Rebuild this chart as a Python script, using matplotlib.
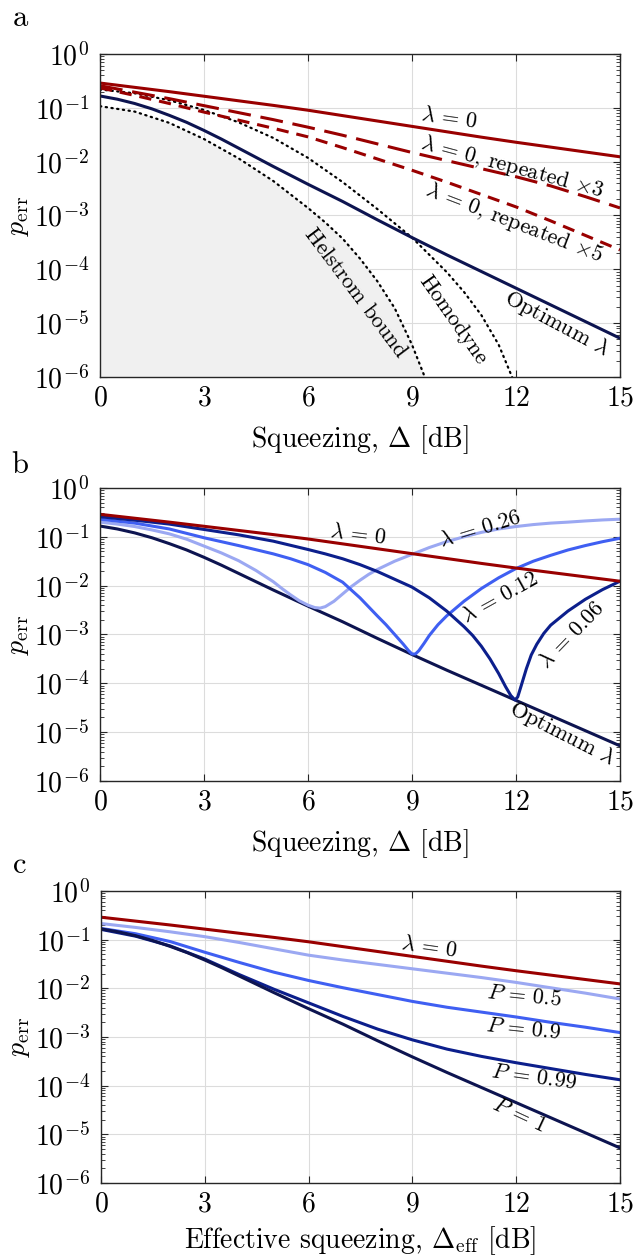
import numpy as np
import matplotlib
matplotlib.use("Agg")
import matplotlib.pyplot as plt
from matplotlib.ticker import LogLocator, NullFormatter

plt.rcParams['font.family'] = 'serif'
plt.rcParams['font.serif'] = ['cmr10']
plt.rcParams['mathtext.fontset'] = 'cm'
plt.rcParams['axes.formatter.use_mathtext'] = True

# ---- data (values are log10 of p_err) ----
x_db = [0, 1, 2, 3, 4, 5, 6, 7, 8, 9, 10, 11, 12, 13, 14, 15]

lam0 = [-0.54, -0.62, -0.70, -0.785, -0.87, -0.955, -1.045, -1.145, -1.245,
        -1.345, -1.445, -1.545, -1.64, -1.73, -1.82, -1.91]

opt_x = [0, 0.5, 1, 1.5, 2, 2.5, 3, 3.5, 4, 5, 6, 7, 8, 9, 10, 11, 12, 13, 14, 15]
optimum = [-0.78, -0.84, -0.92, -1.02, -1.14, -1.27, -1.42, -1.58, -1.75, -2.09,
           -2.42, -2.74, -3.08, -3.41, -3.73, -4.04, -4.35, -4.66, -4.97, -5.28]

rep3 = [-0.59, -0.71, -0.83, -0.96, -1.09, -1.22, -1.36, -1.51, -1.67,
        -1.83, -1.98, -2.13, -2.28, -2.45, -2.65, -2.86]
rep5 = [-0.63, -0.77, -0.92, -1.08, -1.23, -1.38, -1.54, -1.74, -1.95,
        -2.16, -2.38, -2.61, -2.84, -3.10, -3.37, -3.64]

helstrom_x = [0, 1, 2, 3, 4, 5, 6, 6.5, 7, 7.5, 8, 8.5, 9, 9.4]
helstrom = [-0.97, -1.07, -1.28, -1.58, -1.94, -2.36, -2.86, -3.13, -3.43,
            -3.80, -4.22, -4.72, -5.40, -6.05]
homodyne_x = [0, 1, 2, 3, 4, 5, 6, 7, 8, 9, 10, 10.5, 11, 11.5, 11.9]
homodyne = [-0.66, -0.73, -0.86, -1.04, -1.27, -1.56, -1.93, -2.38, -2.88,
            -3.41, -4.05, -4.42, -4.85, -5.40, -6.02]

# panel b: fixed lambda
l26_x = [0, 0.5, 1, 1.5, 2, 2.5, 3, 3.5, 4, 4.5, 5, 5.25, 5.5, 5.75, 6, 6.2,
         6.35, 6.5, 6.75, 7, 7.25, 7.5, 7.75, 8, 8.5, 9, 9.5, 10, 10.5, 11,
         11.5, 12, 12.5, 13, 13.5, 14, 14.5, 15]
l26 = [-0.70, -0.74, -0.79, -0.86, -0.94, -1.05, -1.19, -1.33, -1.49, -1.69,
       -1.92, -2.06, -2.19, -2.31, -2.40, -2.45, -2.46, -2.43, -2.32, -2.17,
       -2.02, -1.89, -1.77, -1.67, -1.50, -1.36, -1.22, -1.10, -1.00, -0.91,
       -0.84, -0.79, -0.75, -0.72, -0.70, -0.676, -0.655, -0.64]
l12_x = [0, 1, 2, 3, 4, 5, 5.5, 6, 6.5, 7, 7.5, 8, 8.25, 8.5, 8.75, 8.9, 9.0,
         9.1, 9.2, 9.35, 9.5, 9.75, 10, 10.5, 11, 11.5, 12, 12.5, 13, 13.5,
         14, 14.5, 15]
l12 = [-0.64, -0.72, -0.84, -1.02, -1.18, -1.35, -1.45, -1.57, -1.73, -1.93,
       -2.25, -2.62, -2.80, -3.00, -3.20, -3.33, -3.40, -3.40, -3.33, -3.18,
       -3.02, -2.80, -2.62, -2.32, -2.06, -1.84, -1.65, -1.50, -1.38, -1.27,
       -1.18, -1.10, -1.03]
l06_x = [0, 1, 2, 3, 4, 5, 6, 6.5, 7, 7.5, 8, 8.5, 9, 9.5, 10, 10.5, 10.75,
         11, 11.25, 11.5, 11.7, 11.85, 11.97, 12.05, 12.15, 12.3, 12.44, 12.6,
         12.8, 13, 13.5, 14, 14.5, 15]
l06 = [-0.59, -0.66, -0.74, -0.85, -0.96, -1.09, -1.26, -1.35, -1.45, -1.57,
       -1.71, -1.87, -2.03, -2.25, -2.52, -2.84, -3.02, -3.24, -3.50, -3.80,
       -4.07, -4.25, -4.34, -4.28, -4.05, -3.70, -3.42, -3.20, -2.98, -2.81,
       -2.52, -2.28, -2.08, -1.91]

# panel c: post-selection probability P
p05 = [-0.67, -0.75, -0.84, -0.94, -1.06, -1.19, -1.32, -1.42, -1.51, -1.60,
       -1.69, -1.78, -1.88, -1.99, -2.10, -2.22]
p09 = [-0.77, -0.88, -1.04, -1.26, -1.47, -1.67, -1.84, -1.99, -2.13, -2.27,
       -2.39, -2.49, -2.59, -2.70, -2.80, -2.91]
p099 = [-0.79, -0.93, -1.13, -1.40, -1.72, -2.02, -2.30, -2.58, -2.84, -3.06,
        -3.25, -3.40, -3.53, -3.65, -3.77, -3.88]

RED = '#990000'
DARK = '#0d1450'
NAVY = '#0c1f8c'
BLUE = '#3f5ff2'
LIGHT = '#9ba8f2'
LW = 2.2


def p(v):
    return 10.0 ** np.asarray(v)


def style(ax, xlabel, lpad):
    ax.set_yscale('log')
    ax.set_xlim(0, 15)
    ax.set_ylim(1e-6, 1)
    ax.set_xticks([0, 3, 6, 9, 12, 15])
    ax.yaxis.set_major_locator(LogLocator(base=10, numticks=10))
    ax.yaxis.set_minor_locator(LogLocator(base=10, subs=np.arange(2, 10), numticks=10))
    ax.yaxis.set_minor_formatter(NullFormatter())
    ax.grid(True, which='major', color='#dcdcdc', lw=0.8)
    ax.set_axisbelow(True)
    ax.tick_params(which='both', direction='in', top=True, right=True,
                   labelsize=20, color='#262626')
    ax.tick_params(which='major', length=5, width=0.8)
    ax.tick_params(which='minor', length=3, width=0.6)
    ax.tick_params(axis='x', pad=6)
    ax.tick_params(axis='y', pad=8)
    for s in ax.spines.values():
        s.set_color('#262626')
        s.set_linewidth(1.0)
    ax.set_xlabel(xlabel, fontsize=20, labelpad=lpad)
    ax.set_ylabel(r'$p_{\mathrm{err}}$', fontsize=20, labelpad=2)


def note(ax, x, y, s, rot):
    ax.text(x, 10 ** y, s, rotation=rot, rotation_mode='anchor',
            ha='center', va='center', fontsize=16)


fig = plt.figure(figsize=(6.34, 12.55), dpi=100)
ax1 = fig.add_axes([0.1577, 0.6996, 0.8202, 0.2574])
ax2 = fig.add_axes([0.1577, 0.3777, 0.8202, 0.2335])
ax3 = fig.add_axes([0.1593, 0.0574, 0.8186, 0.2327])

dots = dict(color='k', lw=1.6, ls=(0, (0.6, 2.0)), dash_capstyle='round')

# ---- panel a ----
ax1.fill_between(helstrom_x, p(helstrom), 1e-7, color='#f0f0f0', lw=0)
ax1.plot(helstrom_x, p(helstrom), **dots)
ax1.plot(homodyne_x, p(homodyne), **dots)
ax1.plot(x_db, p(rep5), color=RED, lw=LW, ls=(0, (4.0, 2.6)))
ax1.plot(x_db, p(rep3), color=RED, lw=LW, ls=(0, (7.5, 3.2)))
ax1.plot(x_db, p(lam0), color=RED, lw=LW)
ax1.plot(opt_x, p(optimum), color=DARK, lw=LW)
style(ax1, r'Squeezing, $\Delta$ [dB]', 8)
note(ax1, 10.07, -1.19, r'$\lambda\,=\,0$', -8)
note(ax1, 11.88, -2.10, r'$\lambda\,=\,0$, repeated $\times 3$', -15)
note(ax1, 11.94, -3.14, r'$\lambda\,=\,0$, repeated $\times 5$', -21)
note(ax1, 7.36, -4.44, 'Helstrom bound', -53)
note(ax1, 10.18, -4.94, 'Homodyne', -55)
note(ax1, 13.18, -5.0, r'Optimum $\lambda$', -28)

# ---- panel b ----
ax2.plot(opt_x, p(optimum), color=DARK, lw=LW)
ax2.plot(l26_x, p(l26), color=LIGHT, lw=LW)
ax2.plot(l12_x, p(l12), color=BLUE, lw=LW)
ax2.plot(l06_x, p(l06), color=NAVY, lw=LW)
ax2.plot(x_db, p(lam0), color=RED, lw=LW)
style(ax2, r'Squeezing, $\Delta$ [dB]', 8)
note(ax2, 7.44, -0.96, r'$\lambda\,=\,0$', -7)
note(ax2, 10.96, -0.84, r'$\lambda\,=\,0.26$', 17)
note(ax2, 11.54, -2.23, r'$\lambda\,=\,0.12$', 29)
note(ax2, 13.61, -3.01, r'$\lambda\,=\,0.06$', 46)
note(ax2, 13.33, -5.02, r'Optimum $\lambda$', -27)

# ---- panel c ----
ax3.plot(x_db, p(lam0), color=RED, lw=LW)
ax3.plot(x_db, p(p05), color=LIGHT, lw=LW)
ax3.plot(x_db, p(p09), color=BLUE, lw=LW)
ax3.plot(x_db, p(p099), color=NAVY, lw=LW)
ax3.plot(opt_x, p(optimum), color=DARK, lw=LW)
style(ax3, r'Effective squeezing, $\Delta_{\mathrm{eff}}$ [dB]', 5)
note(ax3, 9.48, -1.15, r'$\lambda\,=\,0$', -8)
note(ax3, 12.22, -2.16, r'$P\,=\,0.5$', -6)
note(ax3, 12.2, -2.84, r'$P\,=\,0.9$', -6)
note(ax3, 12.51, -3.82, r'$P\,=\,0.99$', -8)
note(ax3, 12.1, -4.6, r'$P\,=\,1$', -25)

for lab, ypix in (('a', 18), ('b', 465), ('c', 865)):
    fig.text(20 / 634, 1 - ypix / 1255, lab, fontsize=22, ha='center', va='center')

fig.savefig('out.png', dpi=100)
